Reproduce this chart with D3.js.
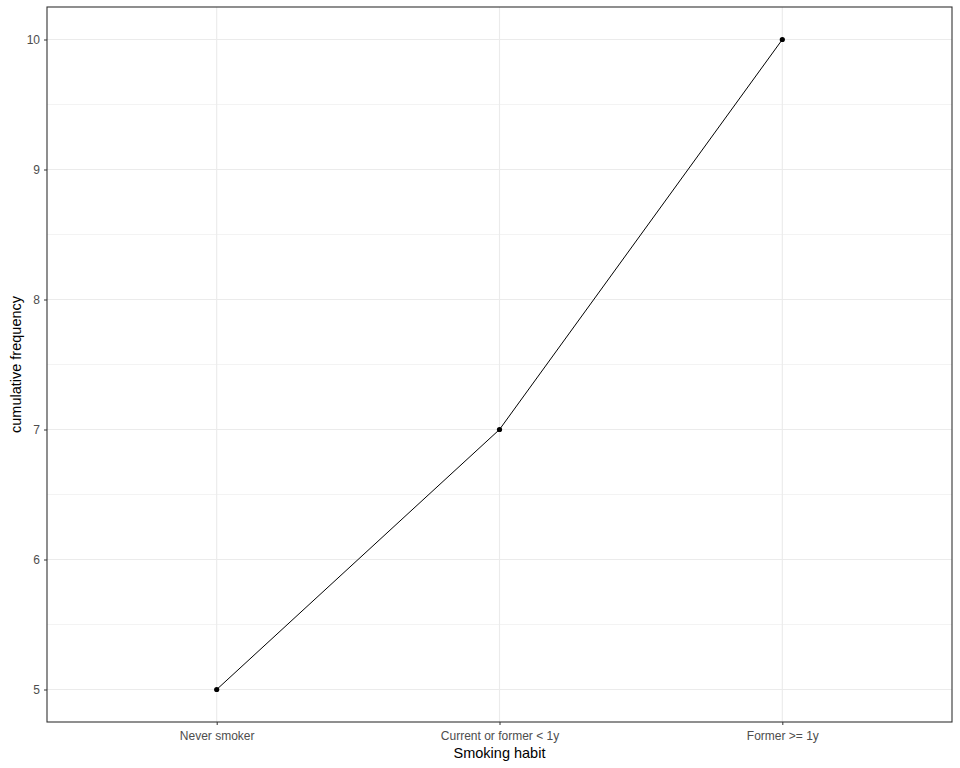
<!DOCTYPE html>
<html>
<head>
<meta charset="utf-8">
<script src="https://cdn.jsdelivr.net/npm/d3@7"></script>
<style>
  body { margin: 0; background: #fff; }
  text { font-family: "Liberation Sans", Arial, sans-serif; }
</style>
</head>
<body>
<svg id="chart"></svg>
<script>
// data
const categories = ["Never smoker", "Current or former < 1y", "Former >= 1y"];
const cumFreq = [5, 7, 10];
const yTicks = [5, 6, 7, 8, 9, 10];
const yMinorTicks = [5.5, 6.5, 7.5, 8.5, 9.5];

// layout
const W = 960, H = 768;
const margin = {top: 7, right: 8, bottom: 46, left: 47};
const width = W - margin.left - margin.right;
const height = H - margin.top - margin.bottom;

const root = d3.select('#chart')
    .attr('width', W)
    .attr('height', H);

const svg = root.append('g')
    .attr('transform', 'translate(' + margin.left + ',' + margin.top + ')');

// scales, with ggplot style expansion
const x = d3.scalePoint()
    .domain(categories)
    .range([0, width])
    .padding(0.6);

const yPad = (d3.max(cumFreq) - d3.min(cumFreq)) * 0.05;
const y = d3.scaleLinear()
    .domain([d3.min(cumFreq) - yPad, d3.max(cumFreq) + yPad])
    .range([height, 0]);

// grid
svg.append('g').selectAll('line.minor')
    .data(yMinorTicks)
    .enter().append('line')
    .attr('x1', 0).attr('x2', width)
    .attr('y1', d => y(d)).attr('y2', d => y(d))
    .attr('stroke', '#ebebeb').attr('stroke-width', 0.6);

svg.append('g').selectAll('line.major')
    .data(yTicks)
    .enter().append('line')
    .attr('x1', 0).attr('x2', width)
    .attr('y1', d => y(d)).attr('y2', d => y(d))
    .attr('stroke', '#ebebeb').attr('stroke-width', 1.1);

svg.append('g').selectAll('line.vmajor')
    .data(categories)
    .enter().append('line')
    .attr('y1', 0).attr('y2', height)
    .attr('x1', d => x(d)).attr('x2', d => x(d))
    .attr('stroke', '#ebebeb').attr('stroke-width', 1.1);

// line + points
const line = d3.line()
    .x((d, i) => x(categories[i]))
    .y(d => y(d));

svg.append('path')
    .datum(cumFreq)
    .attr('d', line)
    .attr('fill', 'none')
    .attr('stroke', '#000')
    .attr('stroke-width', 1);

svg.selectAll('circle')
    .data(cumFreq)
    .enter().append('circle')
    .attr('cx', (d, i) => x(categories[i]))
    .attr('cy', d => y(d))
    .attr('r', 2.6)
    .attr('fill', '#000');

// axes
const xAxis = svg.append('g')
    .attr('transform', 'translate(0,' + height + ')')
    .call(d3.axisBottom(x).tickSize(3).tickPadding(6));
const yAxis = svg.append('g')
    .call(d3.axisLeft(y).tickValues(yTicks).tickFormat(d3.format('d')).tickSize(3).tickPadding(4));

[xAxis, yAxis].forEach(function(a) {
  a.select('.domain').remove();
  a.selectAll('line').attr('stroke', '#333').attr('stroke-width', 1);
  a.selectAll('text')
      .attr('fill', '#4d4d4d')
      .style('font-size', '12px')
      .style('font-family', '"Liberation Sans", Arial, sans-serif');
});

// panel border
svg.append('rect')
    .attr('width', width).attr('height', height)
    .attr('fill', 'none')
    .attr('stroke', '#333').attr('stroke-width', 1.1);

// axis titles
root.append('text')
    .attr('x', margin.left + width / 2)
    .attr('y', H - 10)
    .attr('text-anchor', 'middle')
    .style('font-size', '14.5px')
    .attr('fill', '#000')
    .text('Smoking habit');

root.append('text')
    .attr('transform', 'translate(21,' + (margin.top + height / 2) + ') rotate(-90)')
    .attr('text-anchor', 'middle')
    .style('font-size', '14.5px')
    .attr('fill', '#000')
    .text('cumulative frequency');
</script>
</body>
</html>
